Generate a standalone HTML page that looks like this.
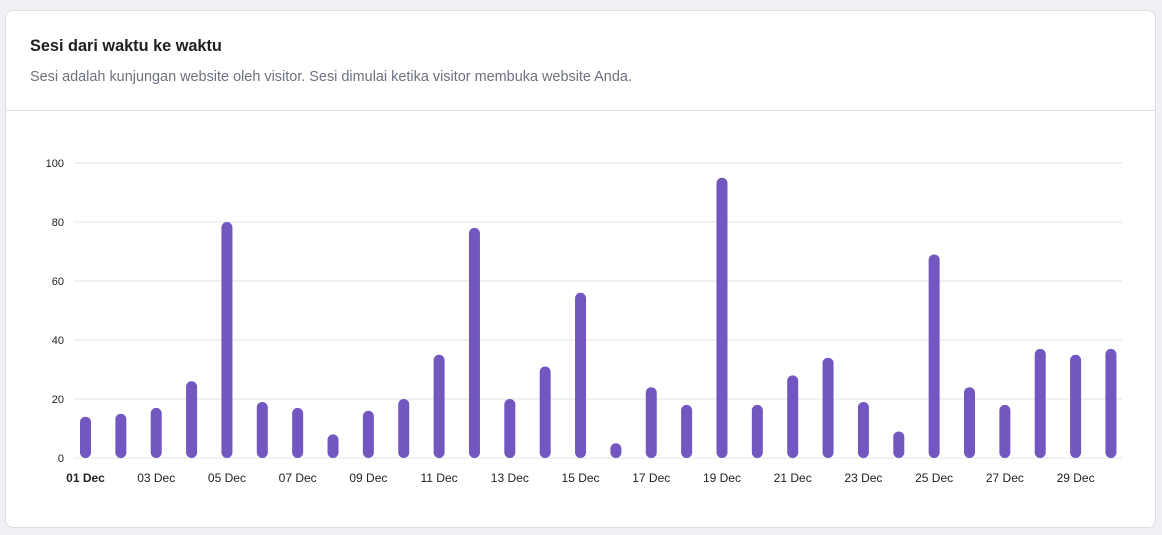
<!DOCTYPE html>
<html><head><meta charset="utf-8"><style>
body{margin:0;background:#f0f1f5;width:1162px;height:535px;overflow:hidden;font-family:"Liberation Sans",sans-serif}
.card{position:absolute;left:5px;top:10px;width:1151px;height:518px;background:#fff;border:1px solid #dcdde3;border-radius:8px;box-sizing:border-box}
.title{position:absolute;left:24px;top:26px;font-size:16.3px;font-weight:bold;color:#1d1e20}
.sub{position:absolute;left:24px;top:58px;font-size:14.45px;color:#6d7081}
.div{position:absolute;left:0;right:0;top:99px;border-top:1px solid #dcdde3}
svg{position:absolute;left:0;top:0}
</style></head><body>
<div class="card">
<div class="title">Sesi dari waktu ke waktu</div>
<div class="sub">Sesi adalah kunjungan website oleh visitor. Sesi dimulai ketika visitor membuka website Anda.</div>
<div class="div"></div>
</div>
<svg id="chart" width="1162" height="535"></svg>
<script>
const days=["01 Dec","02 Dec","03 Dec","04 Dec","05 Dec","06 Dec","07 Dec","08 Dec","09 Dec","10 Dec","11 Dec","12 Dec","13 Dec","14 Dec","15 Dec","16 Dec","17 Dec","18 Dec","19 Dec","20 Dec","21 Dec","22 Dec","23 Dec","24 Dec","25 Dec","26 Dec","27 Dec","28 Dec","29 Dec","30 Dec"];
const sessions=[14,15,17,26,80,19,17,8,16,20,35,78,20,31,56,5,24,18,95,18,28,34,19,9,69,24,18,37,35,37];
const yTicks=[0,20,40,60,80,100];
const NS="http://www.w3.org/2000/svg",svg=document.getElementById("chart");
const y=v=>458-v*2.95, x=i=>85.5+i*35.36;
function mk(t,a){const e=document.createElementNS(NS,t);for(const k in a)e.setAttribute(k,a[k]);svg.appendChild(e);return e;}
yTicks.forEach(v=>{
 const l=mk("line",{x1:74,x2:1122,y1:y(v),y2:y(v),stroke:"#e3e3e6","stroke-width":1});
 
 
 const t=mk("text",{x:64,y:y(v)+4,"text-anchor":"end","font-size":11,fill:"#222"});t.textContent=v;
 
 
});
sessions.forEach((v,i)=>{
 const top=y(v),h=Math.max(458-top,11);
 const r=mk("rect",{x:x(i)-5.5,y:458-h,width:11,height:h,rx:5.5,fill:"#7257c1"});
 
 
 if(i%2==0){
  const t=mk("text",{x:x(i),y:482,"text-anchor":"middle","font-size":12,fill:"#222","font-weight":i==0?"bold":"normal"});t.textContent=days[i];
  
  
 }
});
</script>
</body></html>
